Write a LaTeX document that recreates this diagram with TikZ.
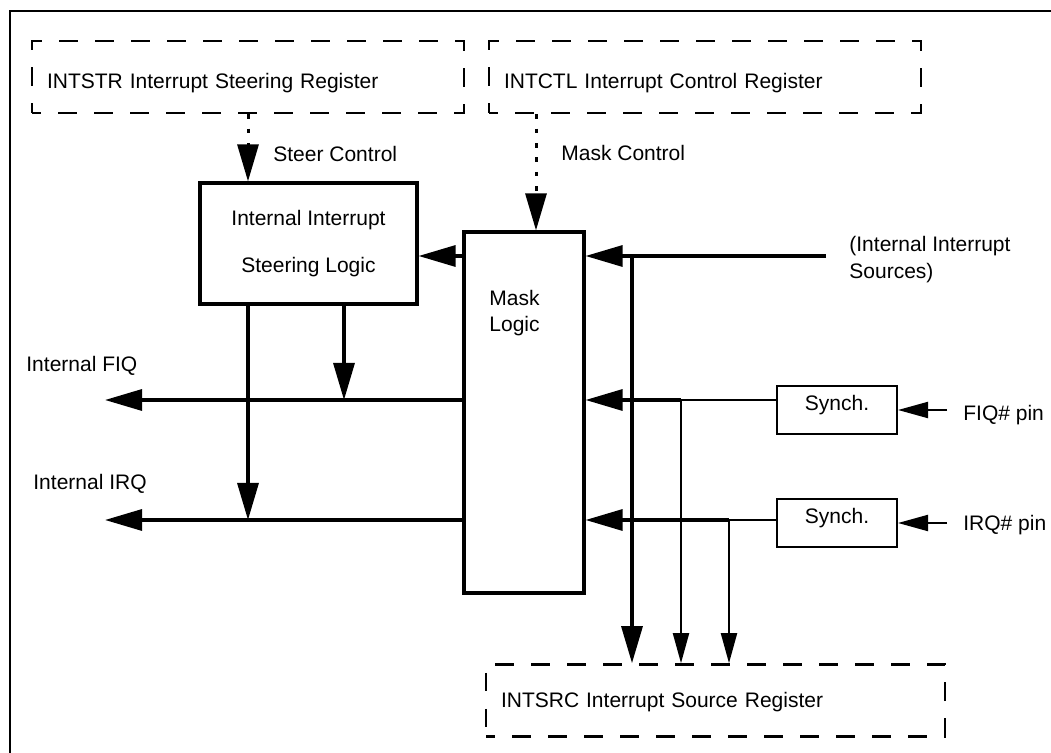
\documentclass[tikz,border=0pt]{standalone}
\usepackage{fontspec}
\setmainfont{Liberation Sans}
\usetikzlibrary{arrows.meta, positioning}

\tikzset{
  lbl/.style={inner sep=0pt, font=\fontsize{10.5pt}{12.6pt}\selectfont},
  regbox/.style={draw, line width=1.3pt, dash pattern=on 9.3pt off 8.7pt, dash phase=4.8pt,
    text width=#1, align=left, inner xsep=7.5pt, minimum height=36pt,
    text height=14.2pt, text depth=2.2pt, font=\fontsize{10.5pt}{12.6pt}\selectfont},
  logicbox/.style={draw, line width=1.6pt, inner sep=0pt},
  synchbox/.style={draw, line width=1pt, inner sep=0pt, minimum width=60pt, minimum height=24pt,
    text height=7.7pt, text depth=7.2pt, font=\fontsize{10.5pt}{12.6pt}\selectfont},
  bus/.style={line width=1.6pt},
  wire/.style={line width=1pt},
  ctl/.style={line width=1.5pt, dash pattern=on 2.3pt off 4.9pt},
  bigtip/.style={-{Triangle[length=18.5pt,width=10.5pt]}},
  smalltip/.style={-{Triangle[length=15pt,width=8pt]}}
}

\begin{document}
\begin{tikzpicture}[x=0.5pt, y=-0.5pt]
    \useasboundingbox (0,0) rectangle (1051,753);
    \draw[line width=1.3pt] (10,760) -- (10,11) -- (1060,11);

    % Registers
    \node[regbox=201pt] (strreg) at (248,77) {INTSTR Interrupt Steering Register};
    \node[regbox=201pt] (ctlreg) at (705,77) {INTCTL Interrupt Control Register};
    \node[regbox=214.5pt, text height=7.5pt, text depth=0pt] (srcreg) at (715.5,700.5)
      {INTSRC Interrupt Source Register};

    % Logic blocks
    \node[logicbox, minimum width=108.5pt, minimum height=60.5pt, align=center,
      font=\fontsize{10.5pt}{23.5pt}\selectfont] (steer) at (308.5,243.5)
      {Internal Interrupt\\Steering Logic};
    \node[logicbox, minimum width=60pt, minimum height=180.5pt] (mask) at (524,412.5) {};
    \node[lbl, anchor=west, align=left, font=\fontsize{10.5pt}{13pt}\selectfont] (masktxt)
      at (489,313) {Mask\\Logic};
    \node[synchbox] (syncf) at (837,410) {Synch.};
    \node[synchbox] (synci) at (837,523) {Synch.};

    % Labels
    \node[lbl, anchor=west] (steerlbl) at (273,154) {Steer Control};
    \node[lbl, anchor=west] (masklbl) at (561,153) {Mask Control};
    \node[lbl, anchor=west, align=left, font=\fontsize{10.5pt}{13.5pt}\selectfont] (srclbl)
      at (849,260) {(Internal Interrupt\\Sources)};
    \node[lbl, anchor=west] (fiqlbl) at (26,366) {Internal FIQ};
    \node[lbl, anchor=west] (irqlbl) at (33,484) {Internal IRQ};
    \node[lbl, anchor=west] (fiqpin) at (963,415) {FIQ\# pin};
    \node[lbl, anchor=west] (irqpin) at (963,525) {IRQ\# pin};

    \coordinate (srcin) at (826,256);
    \coordinate (bustap) at (632,256);
    \coordinate (fiqtap) at (681,400);
    \coordinate (irqtap) at (729,520);
    \coordinate (fiqout) at (105,400);
    \coordinate (irqout) at (105,520);
    \coordinate (mctl) at ([xshift=6pt]mask.north);
    \coordinate (sdfiq) at ([xshift=17.75pt]steer.south);
    \coordinate (sdirq) at ([xshift=-30.25pt]steer.south);

    % Control
    \draw[ctl, bigtip] (strreg.south) -- (strreg.south |- steer.north);
    \draw[ctl, bigtip] (mctl |- ctlreg.south) -- (mctl);

    % Sources into mask logic
    \draw[bus, bigtip] (srcin) -- (srcin -| mask.east);
    \draw[bus, bigtip] (bustap) -- (bustap |- srcreg.north);
    \draw[wire, smalltip] ([xshift=24.5pt]syncf.east) -- (syncf.east);
    \draw[wire, smalltip] ([xshift=24.5pt]synci.east) -- (synci.east);
    \draw[wire] ([yshift=5pt]syncf.west) -- (fiqtap);
    \draw[bus, bigtip] (fiqtap) -- (fiqtap -| mask.east);
    \draw[wire, smalltip] (fiqtap) -- (fiqtap |- srcreg.north);
    \draw[wire] ([yshift=1.5pt]synci.west) -- (irqtap);
    \draw[bus, bigtip] (irqtap) -- (irqtap -| mask.east);
    \draw[wire, smalltip] (irqtap) -- (irqtap |- srcreg.north);

    % Outputs
    \draw[bus, bigtip] (srcin -| mask.west) -- (srcin -| steer.east);
    \draw[bus, bigtip] (fiqout -| mask.west) -- (fiqout);
    \draw[bus, bigtip] (irqout -| mask.west) -- (irqout);
    \draw[bus, bigtip] (sdfiq) -- (sdfiq |- fiqout);
    \draw[bus, bigtip] (sdirq) -- (sdirq |- irqout);
\end{tikzpicture}
\end{document}
